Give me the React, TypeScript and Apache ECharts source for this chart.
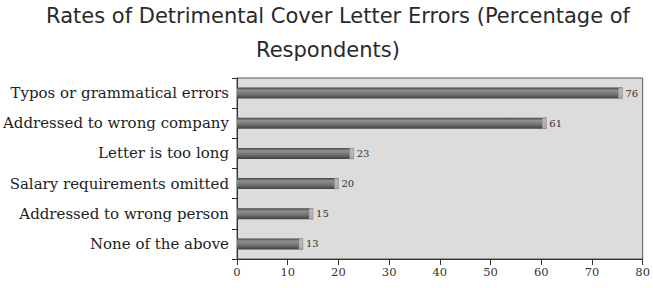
import React, { useEffect, useRef } from "react";
import * as echarts from "echarts";

const titleLines = [
  "Rates of Detrimental Cover Letter Errors (Percentage of",
  "Respondents)",
];
const categories = [
  "Typos or grammatical errors",
  "Addressed to wrong company",
  "Letter is too long",
  "Salary requirements omitted",
  "Addressed to wrong person",
  "None of the above",
];
const values = [76, 61, 23, 20, 15, 13];
const xTicks = [0, 10, 20, 30, 40, 50, 60, 70, 80];

export default function App() {
  const ref = useRef<HTMLDivElement>(null);
  useEffect(() => {
    if (!ref.current) return;
    const chart = echarts.init(ref.current, null, { renderer: "svg" });
    const titleX = [338, 328];
    chart.setOption({
      animation: false,
      backgroundColor: "#ffffff",
      graphic: titleLines.map((t, i) => ({
        type: "text",
        x: titleX[i],
        y: 16 + i * 34,
        style: {
          text: t,
          fontFamily: "DejaVu Sans",
          fontSize: 21,
          fill: "#2a2a2a",
          textAlign: "center",
          textVerticalAlign: "middle",
        },
      })),
      grid: {
        left: 237,
        right: 9,
        top: 78,
        bottom: 29,
        show: true,
        backgroundColor: "#dcdcdc",
        borderColor: "#555",
        borderWidth: 1,
      },
      xAxis: {
        type: "value",
        min: xTicks[0],
        max: xTicks[xTicks.length - 1],
        interval: 10,
        axisLine: { show: true, lineStyle: { color: "#333", width: 1 } },
        axisTick: { show: true, length: 6, lineStyle: { color: "#333" } },
        splitLine: { show: false },
        axisLabel: {
          fontFamily: "DejaVu Serif",
          fontSize: 11.5,
          color: "#333",
          margin: 7,
        },
      },
      yAxis: {
        type: "category",
        data: categories,
        inverse: true,
        axisLine: { show: true, lineStyle: { color: "#333", width: 1 } },
        axisTick: { show: true, length: 5, interval: 0, lineStyle: { color: "#333" } },
        axisLabel: {
          fontFamily: "DejaVu Serif",
          fontSize: 15,
          color: "#222",
          margin: 8,
        },
      },
      series: [
        {
          type: "bar",
          data: values,
          barWidth: 11,
          itemStyle: {
            color: new echarts.graphic.LinearGradient(0, 0, 0, 1, [
              { offset: 0, color: "#444444" },
              { offset: 0.25, color: "#909090" },
              { offset: 0.6, color: "#747474" },
              { offset: 1, color: "#404040" },
            ]),
          },
          label: {
            show: true,
            position: "right",
            distance: 3,
            fontFamily: "DejaVu Serif",
            fontSize: 10,
            color: "#333",
          },
        },
        {
          type: "scatter",
          data: values.map((v, i) => [v, i]),
          symbol: "rect",
          symbolSize: [4, 11],
          symbolOffset: [-2, 0],
          z: 3,
          itemStyle: { color: "#c4c4c4", borderColor: "#888", borderWidth: 0.5 },
          silent: true,
        },
      ],
    });
    return () => chart.dispose();
  }, []);
  return (
    <div
      ref={ref}
      style={{ position: "fixed", left: 0, top: 0, width: 653, height: 288 }}
    />
  );
}
